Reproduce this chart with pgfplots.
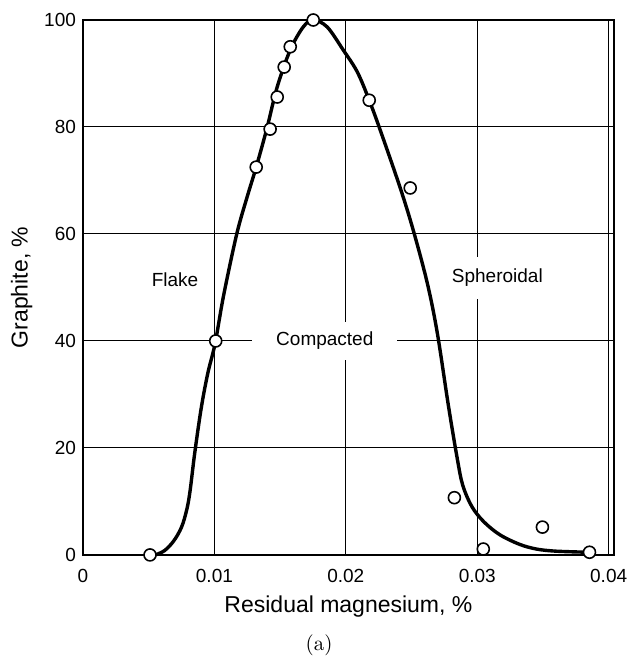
\documentclass[border=0pt]{standalone}
\usepackage{pgfplots}
\pgfplotsset{compat=1.18}
\usepackage{fontspec}
\newfontfamily\arial{Liberation Sans}
\begin{document}
\begin{tikzpicture}
\begin{axis}[
  scale only axis, width=265.5pt, height=267.5pt,
  xmin=0, xmax=0.0404, ymin=0, ymax=100,
  xtick={0,0.01,0.02,0.03,0.04}, xticklabels={0,0.01,0.02,0.03,0.04},
  scaled x ticks=false,
  ytick={0,20,40,60,80,100},
  grid=major, major grid style={black, line width=0.5pt},
  axis line style={line width=1pt},
  major tick length=0pt,
  /pgf/number format/assume math mode=true,
  tick label style={font=\arial\fontsize{9.5}{11}\selectfont},
  xticklabel style={yshift=-3.5pt},
  label style={font=\arial\fontsize{11.5}{13}\selectfont},
  xlabel={Residual magnesium, \%}, ylabel={Graphite, \%},
  xlabel style={yshift=0pt},
  ylabel style={yshift=-1pt},
  clip=false,
]
\node[fill=white, inner xsep=4pt, inner ysep=6pt, font=\arial\fontsize{9.5}{11}\selectfont] at (axis cs:0.0070,51.4) {Flake};
\node[fill=white, inner xsep=12pt, inner ysep=5pt, font=\arial\fontsize{9.5}{11}\selectfont] at (axis cs:0.0184,40) {Compacted};
\node[fill=white, inner xsep=4pt, inner ysep=6pt, font=\arial\fontsize{9.5}{11}\selectfont] at (axis cs:0.03153,51.8) {Spheroidal};
\addplot[black, line width=1.7pt, smooth, tension=0.55] coordinates {
(0.0055,0) (0.0062,0.8) (0.0069,2.6) (0.0075,5.2) (0.0079,8.5) (0.00815,12) (0.0085,19) (0.0090,27.5) (0.0095,34) (0.01005,39.5)
(0.0107,48.5) (0.0117,60) (0.0125,67) (0.01318,72.5) (0.014,79.8) (0.01478,87.5) (0.01577,94.4)
(0.01676,98.7) (0.01752,100) (0.01858,98.7) (0.0198,94.4) (0.02087,90.3) (0.02178,85)
(0.02262,79.4) (0.02414,68.6) (0.02513,60.7) (0.0262,50.8) (0.02696,41.5) (0.0278,28)
(0.02848,18) (0.0289,13) (0.0296,9) (0.0305,6.2) (0.0317,3.8) (0.0332,2) (0.0345,1.1) (0.0360,0.7) (0.03846,0.5)
};
\addplot[only marks, mark=*, mark size=3pt, mark options={fill=white, draw=black, line width=0.8pt}] coordinates {
(0.0051,0) (0.0101,40) (0.01318,72.5) (0.01424,79.6) (0.01478,85.6) (0.01531,91.2)
(0.01577,95) (0.01752,100) (0.02178,85) (0.0249,68.6) (0.02826,10.7) (0.03046,1.1)
(0.03496,5.2) (0.03854,0.5)
};
\end{axis}
\node[anchor=north, font=\fontsize{10.5}{12}\selectfont] at ([yshift=-1.5pt]current axis.outer south) {(a)};
\path (current axis.south west) ++(-41.5pt,-53.5pt) rectangle ++(315.5pt,331pt);
\end{tikzpicture}
\end{document}
